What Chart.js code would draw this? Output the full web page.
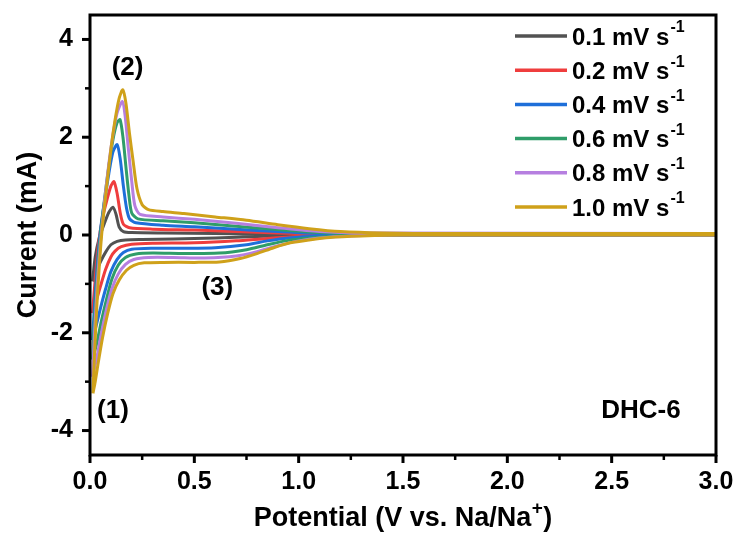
<!DOCTYPE html>
<html>
<head>
<meta charset="utf-8">
<script src="https://cdn.jsdelivr.net/npm/chart.js@4.4.1/dist/chart.umd.min.js"></script>
<style>
  html, body { margin: 0; padding: 0; background: #ffffff; }
  #wrap { width: 738px; height: 534px; }
</style>
</head>
<body>
<div id="wrap"><canvas id="cvChart" width="738" height="534"></canvas></div>
<script>
// scan rates (mV/s) and line colours
const scanRates = ["0.1", "0.2", "0.4", "0.6", "0.8", "1.0"];
const lineColors = ["#525252", "#ef3d3d", "#1e6fd9", "#2f9d69", "#b67fe0", "#cfa11a"];

// each loop: [potential V, current mA], anodic sweep 0 -> 3 V then cathodic back
const loop01 = [
  [0.012, -0.95], [0.025, -0.45], [0.045, -0.05], [0.07, 0.25], [0.09, 0.46], [0.11, 0.57],
  [0.125, 0.42], [0.14, 0.16], [0.16, 0.07], [0.2, 0.05], [0.35, 0.04], [0.6, 0.03],
  [0.8, 0.02], [1.2, 0.02], [2.0, 0.02], [3.0, 0.02],
  [3.0, 0.0], [1.5, 0.0], [1.0, -0.01], [0.8, -0.03], [0.6, -0.06], [0.4, -0.08],
  [0.25, -0.09], [0.17, -0.1], [0.13, -0.13], [0.1, -0.2], [0.075, -0.35], [0.05, -0.55],
  [0.03, -0.75], [0.012, -0.95]
];
const loop02 = [
  [0.012, -1.6], [0.025, -0.9], [0.04, -0.2], [0.06, 0.35], [0.08, 0.7], [0.1, 1.0],
  [0.115, 1.09], [0.13, 0.85], [0.145, 0.45], [0.16, 0.22], [0.19, 0.15], [0.3, 0.12],
  [0.5, 0.1], [0.7, 0.07], [0.9, 0.04], [1.2, 0.02], [2.0, 0.02], [3.0, 0.02],
  [3.0, 0.0], [1.2, 0.0], [1.0, -0.03], [0.85, -0.07], [0.7, -0.12], [0.5, -0.16],
  [0.3, -0.17], [0.2, -0.19], [0.15, -0.24], [0.12, -0.33], [0.1, -0.45], [0.075, -0.7],
  [0.05, -1.05], [0.03, -1.35], [0.012, -1.6]
];
const loop04 = [
  [0.012, -2.15], [0.022, -1.4], [0.035, -0.6], [0.05, 0.1], [0.07, 0.7], [0.09, 1.25],
  [0.11, 1.7], [0.13, 1.85], [0.145, 1.55], [0.16, 1.0], [0.175, 0.55], [0.19, 0.33],
  [0.22, 0.25], [0.35, 0.2], [0.5, 0.17], [0.7, 0.12], [0.9, 0.07], [1.1, 0.03],
  [1.4, 0.02], [3.0, 0.02],
  [3.0, 0.0], [1.3, 0.0], [1.1, -0.02], [0.95, -0.06], [0.85, -0.12], [0.75, -0.2],
  [0.6, -0.26], [0.45, -0.27], [0.3, -0.27], [0.2, -0.29], [0.16, -0.36], [0.13, -0.5],
  [0.1, -0.75], [0.075, -1.1], [0.05, -1.5], [0.03, -1.85], [0.012, -2.15]
];
const loop06 = [
  [0.012, -2.55], [0.022, -1.7], [0.035, -0.8], [0.05, 0.0], [0.07, 0.75], [0.09, 1.4],
  [0.11, 1.95], [0.13, 2.3], [0.144, 2.36], [0.158, 2.0], [0.172, 1.4], [0.187, 0.8],
  [0.2, 0.45], [0.23, 0.33], [0.35, 0.29], [0.5, 0.25], [0.7, 0.18], [0.9, 0.11],
  [1.1, 0.05], [1.3, 0.03], [3.0, 0.03],
  [3.0, 0.0], [1.4, 0.0], [1.2, -0.02], [1.05, -0.06], [0.95, -0.11], [0.85, -0.2],
  [0.75, -0.3], [0.62, -0.37], [0.45, -0.38], [0.3, -0.37], [0.22, -0.39], [0.17, -0.46],
  [0.135, -0.62], [0.105, -0.9], [0.08, -1.3], [0.055, -1.75], [0.033, -2.2], [0.012, -2.55]
];
const loop08 = [
  [0.012, -2.9], [0.022, -2.0], [0.035, -1.0], [0.05, -0.15], [0.07, 0.7], [0.09, 1.45],
  [0.11, 2.05], [0.13, 2.5], [0.155, 2.73], [0.168, 2.45], [0.183, 1.8], [0.2, 1.1],
  [0.215, 0.6], [0.24, 0.42], [0.35, 0.37], [0.5, 0.32], [0.7, 0.24], [0.9, 0.15],
  [1.1, 0.07], [1.3, 0.04], [3.0, 0.03],
  [3.0, 0.0], [1.45, 0.0], [1.25, -0.02], [1.1, -0.06], [1.0, -0.12], [0.9, -0.22],
  [0.8, -0.34], [0.7, -0.43], [0.55, -0.47], [0.4, -0.46], [0.28, -0.46], [0.21, -0.5],
  [0.17, -0.6], [0.135, -0.8], [0.105, -1.1], [0.08, -1.5], [0.055, -2.0], [0.033, -2.5],
  [0.012, -2.9]
];
const loop10 = [
  [0.014, -3.24], [0.022, -2.4], [0.032, -1.5], [0.045, -0.6], [0.06, 0.2], [0.08, 1.0],
  [0.1, 1.75], [0.12, 2.35], [0.14, 2.8], [0.157, 2.97], [0.172, 2.7], [0.19, 2.05],
  [0.207, 1.5], [0.225, 0.95], [0.25, 0.62], [0.28, 0.52], [0.35, 0.48], [0.45, 0.44],
  [0.6, 0.37], [0.75, 0.3], [0.9, 0.21], [1.05, 0.13], [1.2, 0.07], [1.4, 0.04],
  [1.7, 0.03], [3.0, 0.03],
  [3.0, 0.0], [1.5, 0.0], [1.3, -0.02], [1.15, -0.05], [1.05, -0.1], [0.96, -0.16],
  [0.88, -0.26], [0.8, -0.38], [0.72, -0.48], [0.62, -0.55], [0.5, -0.56], [0.35, -0.56],
  [0.26, -0.57], [0.21, -0.62], [0.175, -0.72], [0.14, -0.92], [0.11, -1.2], [0.085, -1.6],
  [0.06, -2.1], [0.04, -2.6], [0.025, -3.0], [0.014, -3.24]
];
const loops = [loop01, loop02, loop04, loop06, loop08, loop10];

// axis ticks
const xMajor = [0, 0.5, 1.0, 1.5, 2.0, 2.5, 3.0];
const xMinor = [0.25, 0.75, 1.25, 1.75, 2.25, 2.75];
const yMajor = [-4, -2, 0, 2, 4];
const yMinor = [-3, -1, 1, 3];

// peak labels
const peakNotes = [
  { text: "(1)", x: 0.11, y: -3.6 },
  { text: "(2)", x: 0.18, y: 3.42 },
  { text: "(3)", x: 0.61, y: -1.08 },
  { text: "DHC-6", x: 2.64, y: -3.6 }
];

const FONT = '"Liberation Sans", Arial, sans-serif';

const decorPlugin = {
  id: "decor",
  afterDraw(chart) {
    const ctx = chart.ctx;
    const a = chart.chartArea;
    const xs = chart.scales.x;
    const ys = chart.scales.y;
    ctx.save();

    // frame
    ctx.strokeStyle = "#000";
    ctx.lineWidth = 3;
    ctx.strokeRect(a.left, a.top, a.right - a.left, a.bottom - a.top);

    // tick marks (outward)
    ctx.lineCap = "butt";
    function tick(x1, y1, x2, y2, w) {
      ctx.lineWidth = w;
      ctx.beginPath();
      ctx.moveTo(x1, y1);
      ctx.lineTo(x2, y2);
      ctx.stroke();
    }
    xMajor.forEach(v => { const p = xs.getPixelForValue(v); tick(p, a.bottom, p, a.bottom + 8, 3); });
    xMinor.forEach(v => { const p = xs.getPixelForValue(v); tick(p, a.bottom, p, a.bottom + 5, 2.5); });
    yMajor.forEach(v => { const p = ys.getPixelForValue(v); tick(a.left - 8, p, a.left, p, 3); });
    yMinor.forEach(v => { const p = ys.getPixelForValue(v); tick(a.left - 5, p, a.left, p, 2.5); });

    // legend
    ctx.textBaseline = "middle";
    ctx.textAlign = "left";
    scanRates.forEach((r, i) => {
      const y = a.top + 21 + i * 34.2;
      const x0 = a.right - 201;
      ctx.strokeStyle = lineColors[i];
      ctx.lineWidth = 3.5;
      ctx.beginPath();
      ctx.moveTo(x0, y);
      ctx.lineTo(x0 + 52, y);
      ctx.stroke();
      ctx.fillStyle = "#000";
      ctx.font = "bold 24px " + FONT;
      const label = r + " mV s";
      ctx.fillText(label, x0 + 57, y + 2);
      const w = ctx.measureText(label).width;
      ctx.font = "bold 16px " + FONT;
      ctx.fillText("-1", x0 + 57 + w + 1, y - 8);
    });

    // peak notes
    ctx.font = "bold 26px " + FONT;
    ctx.textAlign = "center";
    ctx.fillStyle = "#000";
    peakNotes.forEach(n => {
      ctx.fillText(n.text, xs.getPixelForValue(n.x), ys.getPixelForValue(n.y));
    });

    // x axis title with superscript
    const t1 = "Potential (V vs. Na/Na";
    const t2 = "+";
    const t3 = ")";
    ctx.textAlign = "left";
    ctx.font = "bold 27px " + FONT;
    const w1 = ctx.measureText(t1).width;
    const w3 = ctx.measureText(t3).width;
    ctx.font = "bold 19px " + FONT;
    const w2 = ctx.measureText(t2).width;
    const total = w1 + w2 + w3 + 1;
    let tx = (a.left + a.right) / 2 - total / 2;
    const ty = 519;
    ctx.font = "bold 27px " + FONT;
    ctx.fillText(t1, tx, ty);
    ctx.font = "bold 19px " + FONT;
    ctx.fillText(t2, tx + w1 + 0.5, ty - 10);
    ctx.font = "bold 27px " + FONT;
    ctx.fillText(t3, tx + w1 + w2 + 1, ty);

    ctx.restore();
  }
};

function noOverhang(s) {
  s.paddingTop = 0;
  s.paddingBottom = 0;
  s.paddingLeft = 0;
  s.paddingRight = 0;
}

const datasets = loops.map((pts, i) => ({
  label: scanRates[i] + " mV s-1",
  data: pts.map(p => ({ x: p[0], y: p[1] })),
  showLine: true,
  borderColor: lineColors[i],
  backgroundColor: lineColors[i],
  borderWidth: 3,
  pointRadius: 0,
  tension: 0.25,
  order: loops.length - i
}));

new Chart(document.getElementById("cvChart"), {
  type: "scatter",
  data: { datasets: datasets },
  options: {
    responsive: false,
    animation: false,
    layout: { padding: { top: 15, right: 22, left: 0, bottom: 0 } },
    plugins: {
      legend: { display: false },
      tooltip: { enabled: false }
    },
    scales: {
      x: {
        type: "linear",
        min: 0,
        max: 3,
        afterBuildTicks: s => { s.ticks = xMajor.map(v => ({ value: v })); },
        afterFit: s => { s.height = 79; noOverhang(s); },
        grid: { display: false, drawTicks: false },
        border: { display: false },
        ticks: {
          padding: 12,
          color: "#000",
          font: { family: FONT, size: 25, weight: "bold" },
          callback: v => Number(v).toFixed(1)
        }
      },
      y: {
        type: "linear",
        min: -4.5,
        max: 4.5,
        afterBuildTicks: s => { s.ticks = yMajor.map(v => ({ value: v })); },
        afterFit: s => { s.width = 90; noOverhang(s); },
        grid: { display: false, drawTicks: false },
        border: { display: false },
        title: {
          display: true,
          text: "Current (mA)",
          color: "#000",
          font: { family: FONT, size: 27, weight: "bold" },
          padding: { top: 12, bottom: 0 }
        },
        ticks: {
          padding: 17,
          color: "#000",
          font: { family: FONT, size: 25, weight: "bold" },
          callback: v => String(v)
        }
      }
    }
  },
  plugins: [decorPlugin]
});
</script>
</body>
</html>
